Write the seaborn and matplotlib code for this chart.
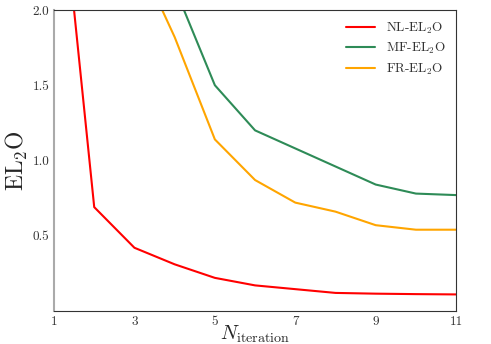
import matplotlib
matplotlib.use("Agg")
import matplotlib.pyplot as plt
import seaborn as sns
import pandas as pd

iterations = [1, 2, 3, 4, 5, 6, 7, 8, 9, 10, 11]
nl_el2o = [3.3, 0.69, 0.42, 0.31, 0.22, 0.17, 0.145, 0.12, 0.115, 0.112, 0.11]
mf_el2o = [7.0, 5.0, 3.5, 2.15, 1.5, 1.2, 1.08, 0.96, 0.84, 0.78, 0.77]
fr_el2o = [5.0, 3.5, 2.4, 1.82, 1.14, 0.87, 0.72, 0.66, 0.57, 0.54, 0.54]
series_names = ["NL-EL$_2$O", "MF-EL$_2$O", "FR-EL$_2$O"]
series_colors = ["#ff0000", "#2e8b57", "#ffa500"]
x_ticks = [1, 3, 5, 7, 9, 11]
y_ticks = [0.5, 1.0, 1.5, 2.0]

sns.set_style("ticks")
plt.rcParams["font.family"] = "serif"
plt.rcParams["font.serif"] = ["cmr10"]
plt.rcParams["mathtext.fontset"] = "cm"
plt.rcParams["axes.formatter.use_mathtext"] = True

rows = []
for name, vals in zip(series_names, [nl_el2o, mf_el2o, fr_el2o]):
    for x, v in zip(iterations, vals):
        rows.append({"N": x, "val": v, "method": name})
df = pd.DataFrame(rows)

fig, ax = plt.subplots(figsize=(4.91, 3.44), dpi=100)
fig.subplots_adjust(left=0.11, right=0.929, top=0.971, bottom=0.096)
sns.lineplot(data=df, x="N", y="val", hue="method", hue_order=series_names,
             palette=series_colors, linewidth=1.5, ax=ax)
ax.set_xlim(1, 11)
ax.set_ylim(0, 2.0)
ax.set_xticks(x_ticks)
ax.set_xticklabels([str(t) for t in x_ticks])
ax.set_yticks(y_ticks)
ax.set_yticklabels([f"{t:.1f}" for t in y_ticks])
ax.tick_params(labelsize=9.5, length=0, pad=3.5, labelcolor="#333333")
ax.set_xlabel(r"$N_{\rm iteration}$", fontsize=14.5, labelpad=-3)
ax.set_ylabel(r"EL$_2$O", fontsize=17, labelpad=2)
for s in ["top", "right", "bottom"]:
    ax.spines[s].set_color("#333333")
ax.spines["left"].set_color("#aaaaaa")
ax.spines["left"].set_linewidth(1.5)
leg = ax.legend(loc="upper right", frameon=False, fontsize=9.5, handlelength=2.2,
                labelspacing=0.4, borderaxespad=0.4)
for t in leg.get_texts():
    t.set_color("#333333")
fig.savefig("out.png", dpi=100)
